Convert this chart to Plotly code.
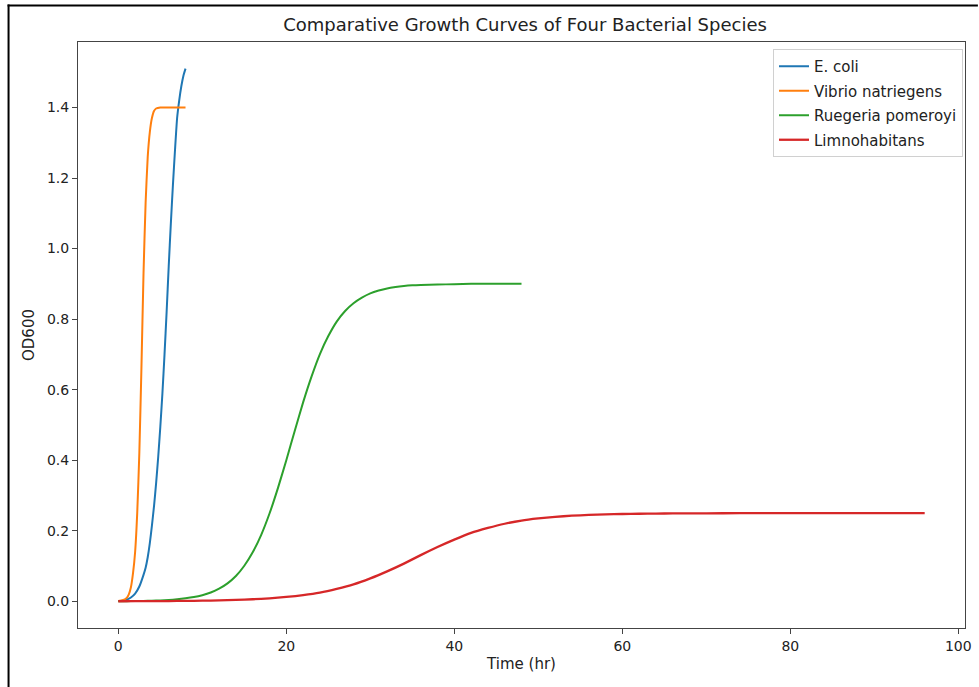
import plotly.graph_objects as go

# ---- data ----
ecoli_t = [0, 0.5, 1, 1.5, 2, 2.5, 3, 3.25, 3.5, 3.75, 4, 4.25, 4.5, 4.75, 5, 5.25, 5.5, 5.75,
           6, 6.25, 6.5, 6.75, 7, 7.25, 7.5, 7.75, 8]
ecoli_od = [0.001, 0.002, 0.005, 0.011, 0.022, 0.042, 0.075, 0.095, 0.125, 0.165, 0.215, 0.27, 0.335,
            0.41, 0.495, 0.59, 0.7, 0.82, 0.95, 1.07, 1.18, 1.28, 1.37, 1.42, 1.46, 1.49, 1.51]

vibrio_t = [0, 0.5, 1, 1.25, 1.5, 1.75, 2, 2.25, 2.5, 2.75, 3, 3.25, 3.5, 3.75, 4, 4.25, 4.5, 5, 6, 7, 8]
vibrio_od = [0.001, 0.003, 0.01, 0.02, 0.04, 0.08, 0.14, 0.25, 0.42, 0.66, 0.93, 1.13, 1.26, 1.33,
             1.37, 1.39, 1.397, 1.4, 1.4, 1.4, 1.4]

ruegeria_t = [0, 1, 2, 3, 4, 5, 6, 7, 8, 9, 10, 11, 12, 13, 14, 15, 16, 17, 18, 19, 20, 21, 22, 23,
              24, 25, 26, 27, 28, 29, 30, 31, 32, 33, 34, 35, 36, 38, 40, 42, 44, 46, 48]
ruegeria_od = [0.0004, 0.0006, 0.0009, 0.0013, 0.0019, 0.0028, 0.004, 0.0058, 0.0085, 0.0122, 0.0175,
               0.025, 0.036, 0.051, 0.072, 0.101, 0.139, 0.188, 0.249, 0.321, 0.40, 0.483, 0.564,
               0.637, 0.701, 0.752, 0.793, 0.823, 0.845, 0.861, 0.873, 0.881, 0.887, 0.891, 0.894,
               0.896, 0.897, 0.898, 0.899, 0.9, 0.9, 0.9, 0.9]

limno_t = [0, 2, 4, 6, 8, 10, 12, 14, 16, 18, 20, 22, 24, 26, 28, 30, 32, 34, 36, 38, 40, 42, 44, 46,
           48, 50, 52, 54, 56, 58, 60, 62, 64, 66, 68, 72, 76, 80, 84, 88, 92, 96]
limno_od = [0.0003, 0.0004, 0.0006, 0.0009, 0.0014, 0.0019, 0.0028, 0.0041, 0.006, 0.0087, 0.0125,
            0.0178, 0.025, 0.0354, 0.048, 0.065, 0.085, 0.107, 0.131, 0.154, 0.175, 0.194, 0.208,
            0.220, 0.229, 0.235, 0.2395, 0.2428, 0.245, 0.2465, 0.2477, 0.2483, 0.2489, 0.2492,
            0.2495, 0.2498, 0.25, 0.25, 0.25, 0.25, 0.25, 0.25]

names = ["E. coli", "Vibrio natriegens", "Ruegeria pomeroyi", "Limnohabitans"]
colors = ["#1f77b4", "#ff7f0e", "#2ca02c", "#d62728"]
widths = [2, 2, 2, 2.3]

x_ticks = [0, 20, 40, 60, 80, 100]
y_ticks = [0.0, 0.2, 0.4, 0.6, 0.8, 1.0, 1.2, 1.4]

series = [(ecoli_t, ecoli_od), (vibrio_t, vibrio_od), (ruegeria_t, ruegeria_od), (limno_t, limno_od)]

fig = go.Figure()
for (t, od), n, c, w in zip(series, names, colors, widths):
    fig.add_trace(go.Scatter(x=t, y=od, mode="lines", name=n, legendgroup=n,
                             line=dict(color=c, width=w, shape="spline", smoothing=0.5)))

W, H = 979, 687
L, R, T, B = 78, 7, 42, 59
pw, ph = W - L - R, H - T - B

def px_x(p):
    return (p - L) / pw

def px_y(p):
    return (H - B - p) / ph

axis_common = dict(showgrid=False, zeroline=False, showline=True, mirror=True,
                   linecolor="#444", linewidth=1, ticks="outside", ticklen=5,
                   tickwidth=1, tickcolor="#444",
                   tickfont=dict(family="DejaVu Sans", size=14, color="#222"))

fig.update_layout(
    width=W, height=H,
    margin=dict(l=L, r=R, t=T, b=B, pad=0),
    paper_bgcolor="white", plot_bgcolor="white",
    title=dict(text="Comparative Growth Curves of Four Bacterial Species",
               x=0.5 * (L + (W - R)) / W, xanchor="center", y=1 - 25 / H, yanchor="middle",
               font=dict(family="DejaVu Sans", size=18, color="#222")),
    xaxis=dict(range=[-4.8, 100.8], tickvals=x_ticks, ticktext=[str(v) for v in x_ticks],
               title=dict(text="Time (hr)", font=dict(family="DejaVu Sans", size=15, color="#222"),
                          standoff=5),
               **axis_common),
    yaxis=dict(range=[-0.0755, 1.5855], tickvals=y_ticks, ticktext=[f"{v:.1f}" for v in y_ticks],
               title=dict(text="OD600", font=dict(family="DejaVu Sans", size=15, color="#222"),
                          standoff=8),
               **axis_common),
    legend=dict(x=px_x(970), xanchor="right", y=px_y(49), yanchor="top",
                bgcolor="white", bordercolor="#d0d0d0", borderwidth=1,
                font=dict(family="DejaVu Sans", size=15, color="#222"),
                tracegroupgap=2, itemwidth=30),
    shapes=[
        dict(type="line", xref="paper", yref="paper", x0=px_x(7), x1=px_x(985),
             y0=px_y(5.5), y1=px_y(5.5), line=dict(color="black", width=2)),
        dict(type="line", xref="paper", yref="paper", x0=px_x(8), x1=px_x(8),
             y0=px_y(4.5), y1=px_y(700), line=dict(color="black", width=2)),
    ],
    showlegend=True,
)

fig.write_html("out.html")
